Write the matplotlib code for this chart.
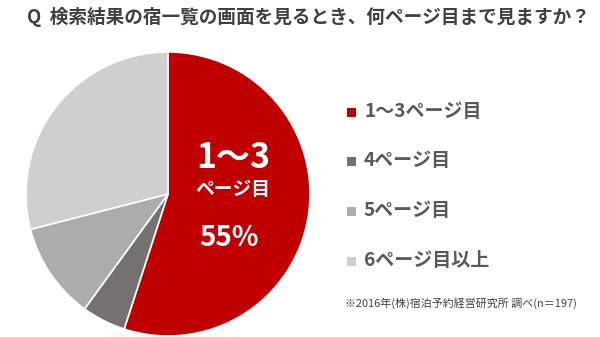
import matplotlib
matplotlib.use("Agg")
import matplotlib.pyplot as plt
from matplotlib.patches import Rectangle

plt.rcParams['font.family'] = ['Noto Sans CJK JP', 'DejaVu Sans']

title = "Q  検索結果の宿一覧の画面を見るとき、何ページ目まで見ますか？"
categories = ["1～3ページ目", "4ページ目", "5ページ目", "6ページ目以上"]
shares = [55, 5, 11, 29]
colors = ["#C00000", "#767171", "#AEABAB", "#D0CECE"]
source = "※2016年(株)宿泊予約経営研究所 調べ(n＝197)"

W, H = 600, 337
fig = plt.figure(figsize=(W / 100, H / 100), dpi=100)
fig.patch.set_facecolor("white")

# pie area in pixel terms
cx, cy, r = 168, 194, 142
ax = fig.add_axes([(cx - r) / W, (H - cy - r) / H, 2 * r / W, 2 * r / H])
ax.pie(shares, colors=colors, startangle=90, counterclock=False,
       wedgeprops=dict(edgecolor="white", linewidth=1.2))
ax.set_xlim(-1, 1)
ax.set_ylim(-1, 1)
ax.set_aspect("equal")
ax.axis("off")

def px(x, y):
    return x / W, 1 - y / H

fig.text(*px(27, 17), title, fontsize=13.4, fontweight="bold", color="#404040",
         ha="left", va="center")

# label inside the largest slice
fig.text(*px(233, 158), "1～3", fontsize=24.5, fontweight="bold", color="white",
         ha="center", va="center")
fig.text(*px(233, 189), "ページ目", fontsize=13.5, fontweight="bold", color="white",
         ha="center", va="center")
fig.text(*px(229, 238), f"{shares[0]}%", fontsize=20, fontweight="bold",
         color="white", ha="center", va="center")

# legend
rows = [112, 161, 211, 261]
for cat, col, y in zip(categories, colors, rows):
    x0, y0 = px(347, y + 5)
    fig.add_artist(Rectangle((x0, y0), 9 / W, 9 / H, transform=fig.transFigure,
                             facecolor=col, edgecolor="none"))
    fig.text(*px(364, y), cat, fontsize=13.7, fontweight="bold", color="#595959",
             ha="left", va="center")

fig.text(*px(345, 303), source, fontsize=7.9, color="#404040",
         ha="left", va="center")

fig.savefig("out.png", dpi=100)
